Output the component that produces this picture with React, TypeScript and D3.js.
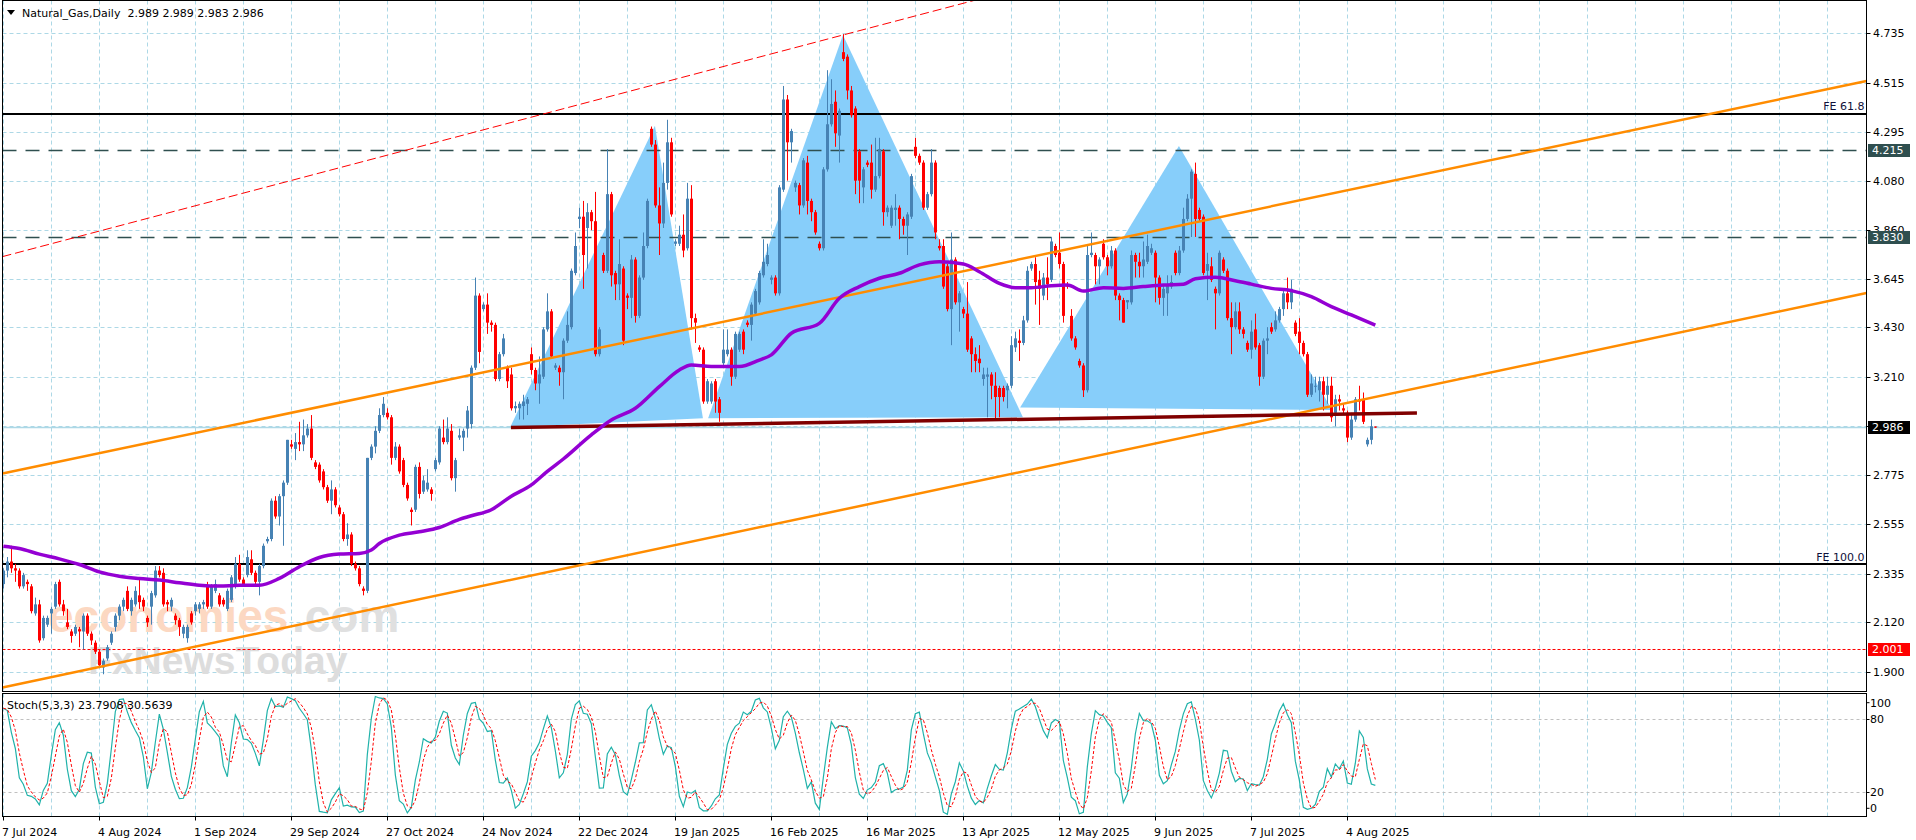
import React from "react";
import * as d3 from "d3";

type Candle = [number, number, number, number]; // open, high, low, close

// daily bars, first one is 7 Jul 2024
const candles: Candle[] = [
  [2.29, 2.36, 2.27, 2.35], [2.35, 2.41, 2.32, 2.39], [2.39, 2.46, 2.34, 2.36], [2.36, 2.38, 2.30, 2.35],
  [2.35, 2.36, 2.27, 2.28], [2.28, 2.34, 2.27, 2.33], [2.30, 2.31, 2.26, 2.29], [2.28, 2.29, 2.16, 2.17],
  [2.16, 2.23, 2.15, 2.20], [2.20, 2.22, 2.03, 2.04], [2.05, 2.15, 2.04, 2.14], [2.11, 2.15, 2.10, 2.14],
  [2.16, 2.19, 2.07, 2.18], [2.19, 2.30, 2.18, 2.29], [2.30, 2.31, 2.19, 2.20], [2.20, 2.22, 2.15, 2.17],
  [2.12, 2.18, 2.09, 2.10], [2.08, 2.09, 2.03, 2.06], [2.07, 2.11, 2.06, 2.10], [2.09, 2.10, 2.01, 2.08],
  [2.08, 2.16, 2.00, 2.15], [2.15, 2.16, 2.06, 2.07], [2.07, 2.08, 2.02, 2.04], [2.03, 2.04, 1.98, 1.99],
  [1.99, 2.00, 1.92, 1.93], [1.92, 1.96, 1.89, 1.95], [1.96, 2.02, 1.95, 2.01], [2.03, 2.08, 2.02, 2.07],
  [2.10, 2.16, 2.08, 2.15], [2.15, 2.20, 2.13, 2.19], [2.19, 2.23, 2.17, 2.22], [2.26, 2.28, 2.17, 2.18],
  [2.17, 2.23, 2.15, 2.22], [2.20, 2.28, 2.19, 2.26], [2.24, 2.31, 2.18, 2.21], [2.22, 2.23, 2.17, 2.19],
  [2.14, 2.15, 2.10, 2.12], [2.19, 2.26, 2.11, 2.25], [2.24, 2.37, 2.23, 2.35], [2.35, 2.37, 2.32, 2.33],
  [2.34, 2.36, 2.19, 2.20], [2.21, 2.22, 2.17, 2.20], [2.19, 2.23, 2.17, 2.22], [2.15, 2.16, 2.11, 2.13],
  [2.13, 2.14, 2.06, 2.10], [2.07, 2.11, 2.05, 2.10], [2.05, 2.11, 2.03, 2.10], [2.16, 2.17, 2.11, 2.12],
  [2.17, 2.21, 2.15, 2.20], [2.18, 2.21, 2.16, 2.20], [2.20, 2.22, 2.18, 2.21], [2.28, 2.30, 2.18, 2.19],
  [2.19, 2.29, 2.18, 2.28], [2.26, 2.31, 2.25, 2.29], [2.24, 2.25, 2.19, 2.20], [2.22, 2.23, 2.19, 2.20],
  [2.18, 2.27, 2.17, 2.26], [2.22, 2.33, 2.21, 2.32], [2.28, 2.41, 2.27, 2.38], [2.38, 2.42, 2.30, 2.31],
  [2.31, 2.32, 2.28, 2.29], [2.33, 2.44, 2.32, 2.41], [2.40, 2.44, 2.33, 2.34], [2.34, 2.35, 2.29, 2.30],
  [2.30, 2.38, 2.24, 2.37], [2.37, 2.47, 2.36, 2.46], [2.48, 2.50, 2.47, 2.49], [2.49, 2.67, 2.48, 2.66],
  [2.66, 2.68, 2.58, 2.59], [2.59, 2.69, 2.55, 2.68], [2.68, 2.75, 2.46, 2.74], [2.74, 2.93, 2.73, 2.93],
  [2.91, 2.93, 2.89, 2.90], [2.89, 2.96, 2.84, 2.92], [2.92, 3.01, 2.88, 2.91], [2.91, 3.02, 2.88, 2.95],
  [2.95, 3.00, 2.94, 2.98], [2.98, 3.04, 2.84, 2.85], [2.83, 2.84, 2.80, 2.81], [2.82, 2.83, 2.74, 2.75],
  [2.79, 2.80, 2.71, 2.72], [2.72, 2.73, 2.65, 2.66], [2.66, 2.75, 2.60, 2.71], [2.71, 2.72, 2.63, 2.64],
  [2.63, 2.64, 2.59, 2.60], [2.60, 2.61, 2.48, 2.49], [2.49, 2.56, 2.46, 2.51], [2.51, 2.52, 2.37, 2.38],
  [2.38, 2.39, 2.35, 2.36], [2.36, 2.37, 2.28, 2.29], [2.27, 2.28, 2.24, 2.26], [2.26, 2.85, 2.25, 2.85],
  [2.85, 2.91, 2.84, 2.90], [2.90, 2.99, 2.87, 2.97], [2.97, 3.07, 2.96, 3.04], [3.04, 3.12, 3.03, 3.09],
  [3.05, 3.07, 3.02, 3.03], [3.03, 3.04, 2.82, 2.85], [2.85, 2.92, 2.84, 2.90], [2.90, 2.91, 2.78, 2.79],
  [2.84, 2.85, 2.72, 2.73], [2.73, 2.74, 2.66, 2.67], [2.62, 2.63, 2.55, 2.61], [2.62, 2.82, 2.61, 2.81],
  [2.81, 2.83, 2.67, 2.69], [2.70, 2.77, 2.69, 2.75], [2.71, 2.80, 2.70, 2.74], [2.71, 2.72, 2.66, 2.69],
  [2.80, 2.85, 2.79, 2.84], [2.83, 2.99, 2.82, 2.98], [2.94, 3.02, 2.91, 2.92], [2.92, 3.03, 2.91, 2.98],
  [2.97, 3.00, 2.75, 2.76], [2.76, 2.85, 2.70, 2.84], [2.94, 2.98, 2.93, 2.95], [2.94, 2.98, 2.88, 2.97],
  [2.98, 3.08, 2.94, 3.06], [3.00, 3.26, 2.98, 3.25], [3.25, 3.65, 3.24, 3.57], [3.57, 3.58, 3.27, 3.32],
  [3.51, 3.54, 3.50, 3.53], [3.53, 3.58, 3.40, 3.45], [3.45, 3.46, 3.41, 3.44], [3.44, 3.45, 3.19, 3.20],
  [3.20, 3.32, 3.19, 3.31], [3.31, 3.40, 3.30, 3.38], [3.25, 3.26, 3.16, 3.19], [3.22, 3.25, 3.06, 3.07],
  [3.07, 3.10, 3.05, 3.08], [3.07, 3.10, 3.02, 3.09], [3.08, 3.13, 3.02, 3.10], [3.09, 3.12, 3.04, 3.11],
  [3.31, 3.34, 3.22, 3.24], [3.24, 3.25, 3.15, 3.18], [3.18, 3.30, 3.09, 3.22], [3.21, 3.43, 3.20, 3.42],
  [3.42, 3.58, 3.41, 3.50], [3.50, 3.51, 3.29, 3.30], [3.25, 3.27, 3.24, 3.26], [3.25, 3.26, 3.17, 3.23],
  [3.23, 3.38, 3.11, 3.37], [3.37, 3.50, 3.36, 3.44], [3.43, 3.69, 3.42, 3.68], [3.67, 3.85, 3.66, 3.79],
  [3.91, 3.96, 3.87, 3.92], [3.92, 3.99, 3.60, 3.75], [3.87, 3.98, 3.69, 3.94], [3.94, 3.95, 3.86, 3.90],
  [3.90, 4.03, 3.30, 3.31], [3.31, 3.43, 3.30, 3.42], [3.75, 3.76, 3.67, 3.68], [3.68, 4.22, 3.67, 4.02],
  [4.02, 4.03, 3.61, 3.66], [3.67, 3.68, 3.55, 3.62], [3.62, 3.82, 3.55, 3.71], [3.69, 3.70, 3.35, 3.37],
  [3.57, 3.58, 3.51, 3.56], [3.56, 3.75, 3.47, 3.73], [3.73, 3.74, 3.45, 3.48], [3.48, 3.66, 3.47, 3.65],
  [3.65, 3.85, 3.64, 3.79], [3.79, 4.00, 3.78, 3.99], [4.31, 4.32, 4.23, 4.24], [4.24, 4.26, 3.96, 3.97],
  [3.97, 4.05, 3.75, 3.89], [3.89, 4.16, 3.87, 4.07], [4.07, 4.35, 4.04, 4.25], [4.25, 4.27, 3.92, 3.93],
  [3.80, 3.82, 3.79, 3.81], [3.80, 3.88, 3.79, 3.84], [3.84, 3.93, 3.74, 3.77], [3.78, 4.07, 3.77, 4.00],
  [4.00, 4.06, 3.42, 3.47], [3.47, 3.49, 3.36, 3.45], [3.34, 3.35, 3.32, 3.33], [3.33, 3.34, 3.09, 3.10],
  [3.10, 3.20, 3.09, 3.19], [3.10, 3.19, 3.09, 3.18], [3.19, 3.20, 3.05, 3.10], [3.11, 3.12, 3.01, 3.05],
  [3.27, 3.42, 3.26, 3.33], [3.31, 3.42, 3.30, 3.33], [3.33, 3.34, 3.17, 3.21], [3.21, 3.41, 3.20, 3.40],
  [3.33, 3.41, 3.32, 3.40], [3.41, 3.42, 3.31, 3.33], [3.45, 3.46, 3.43, 3.44], [3.44, 3.54, 3.37, 3.53],
  [3.49, 3.60, 3.48, 3.59], [3.54, 3.68, 3.53, 3.67], [3.66, 3.82, 3.65, 3.72], [3.71, 3.80, 3.70, 3.75],
  [3.64, 3.66, 3.62, 3.65], [3.65, 3.66, 3.57, 3.58], [3.58, 4.06, 3.57, 4.05], [4.04, 4.50, 4.03, 4.44],
  [4.44, 4.46, 4.08, 4.25], [4.25, 4.31, 4.16, 4.30], [4.05, 4.08, 4.03, 4.07], [4.06, 4.07, 3.93, 3.97],
  [3.97, 4.18, 3.96, 4.17], [4.16, 4.19, 3.93, 3.99], [3.99, 4.00, 3.90, 3.94], [3.94, 3.95, 3.84, 3.85],
  [3.80, 3.81, 3.77, 3.78], [3.78, 4.14, 3.77, 4.13], [4.13, 4.57, 4.12, 4.33], [4.33, 4.53, 4.32, 4.42],
  [4.43, 4.48, 4.23, 4.29], [4.28, 4.40, 4.16, 4.39], [4.65, 4.73, 4.61, 4.62], [4.63, 4.64, 4.44, 4.48],
  [4.48, 4.50, 4.36, 4.37], [4.40, 4.41, 4.02, 4.08], [4.21, 4.22, 3.98, 4.08], [4.05, 4.14, 3.98, 4.13],
  [4.16, 4.17, 4.14, 4.15], [4.16, 4.24, 4.00, 4.04], [4.04, 4.27, 4.03, 4.10], [4.10, 4.27, 4.09, 4.22],
  [4.21, 4.22, 3.88, 3.94], [3.94, 3.97, 3.92, 3.96], [3.88, 3.97, 3.87, 3.96], [3.95, 4.02, 3.88, 3.96],
  [3.96, 3.97, 3.82, 3.91], [3.91, 3.92, 3.84, 3.88], [3.88, 3.94, 3.75, 3.93], [3.92, 4.11, 3.91, 4.10],
  [4.23, 4.27, 4.18, 4.19], [4.19, 4.20, 4.15, 4.16], [4.16, 4.17, 3.95, 3.96], [3.96, 4.03, 3.95, 4.02],
  [4.02, 4.22, 4.01, 4.16], [4.16, 4.17, 3.82, 3.85], [3.79, 3.82, 3.77, 3.78], [3.79, 3.82, 3.60, 3.61],
  [3.70, 3.71, 3.50, 3.51], [3.51, 3.85, 3.35, 3.73], [3.73, 3.74, 3.53, 3.54], [3.54, 3.59, 3.41, 3.58],
  [3.51, 3.52, 3.47, 3.49], [3.49, 3.63, 3.32, 3.33], [3.38, 3.39, 3.23, 3.31], [3.31, 3.34, 3.23, 3.28],
  [3.29, 3.35, 3.23, 3.27], [3.20, 3.25, 3.17, 3.22], [3.21, 3.25, 3.03, 3.22], [3.22, 3.23, 3.11, 3.17],
  [3.17, 3.23, 3.02, 3.12], [3.16, 3.17, 3.03, 3.12], [3.16, 3.17, 3.10, 3.12], [3.15, 3.18, 3.07, 3.17],
  [3.17, 3.39, 3.16, 3.35], [3.34, 3.41, 3.32, 3.38], [3.37, 3.42, 3.28, 3.36], [3.36, 3.48, 3.35, 3.46],
  [3.46, 3.70, 3.45, 3.68], [3.69, 3.72, 3.68, 3.71], [3.71, 3.74, 3.53, 3.63], [3.64, 3.68, 3.44, 3.60],
  [3.57, 3.67, 3.55, 3.65], [3.65, 3.74, 3.55, 3.62], [3.64, 3.83, 3.63, 3.81], [3.79, 3.80, 3.74, 3.75],
  [3.76, 3.85, 3.69, 3.71], [3.71, 3.72, 3.45, 3.48], [3.62, 3.63, 3.60, 3.61], [3.48, 3.51, 3.37, 3.38],
  [3.38, 3.39, 3.33, 3.34], [3.28, 3.29, 3.25, 3.26], [3.26, 3.27, 3.12, 3.15], [3.15, 3.79, 3.14, 3.75],
  [3.75, 3.85, 3.74, 3.76], [3.75, 3.76, 3.62, 3.70], [3.70, 3.74, 3.62, 3.73], [3.80, 3.82, 3.73, 3.74],
  [3.74, 3.75, 3.66, 3.70], [3.70, 3.79, 3.69, 3.77], [3.77, 3.78, 3.55, 3.57], [3.57, 3.58, 3.46, 3.55],
  [3.55, 3.56, 3.45, 3.45], [3.54, 3.55, 3.51, 3.55], [3.54, 3.77, 3.53, 3.75], [3.75, 3.76, 3.65, 3.72],
  [3.72, 3.76, 3.65, 3.70], [3.70, 3.81, 3.65, 3.73], [3.72, 3.84, 3.71, 3.79], [3.76, 3.80, 3.75, 3.78],
  [3.76, 3.77, 3.54, 3.65], [3.65, 3.66, 3.53, 3.56], [3.56, 3.62, 3.48, 3.60], [3.58, 3.66, 3.48, 3.62],
  [3.61, 3.66, 3.60, 3.63], [3.76, 3.77, 3.66, 3.67], [3.67, 3.79, 3.66, 3.77], [3.77, 3.96, 3.76, 3.91],
  [3.91, 4.02, 3.90, 4.00], [4.00, 4.13, 3.83, 4.12], [4.11, 4.16, 3.83, 3.91], [3.95, 3.96, 3.90, 3.91],
  [3.92, 3.93, 3.66, 3.67], [3.68, 3.76, 3.55, 3.71], [3.70, 3.74, 3.63, 3.64], [3.60, 3.61, 3.42, 3.58],
  [3.58, 3.77, 3.57, 3.76], [3.73, 3.74, 3.67, 3.68], [3.68, 3.69, 3.46, 3.47], [3.47, 3.54, 3.31, 3.43],
  [3.43, 3.54, 3.42, 3.50], [3.50, 3.54, 3.40, 3.42], [3.42, 3.43, 3.38, 3.40], [3.36, 3.37, 3.32, 3.33],
  [3.33, 3.46, 3.29, 3.41], [3.42, 3.49, 3.33, 3.34], [3.35, 3.36, 3.17, 3.21], [3.21, 3.38, 3.20, 3.37],
  [3.37, 3.43, 3.31, 3.38], [3.43, 3.45, 3.40, 3.41], [3.42, 3.50, 3.41, 3.46], [3.46, 3.52, 3.45, 3.51],
  [3.51, 3.60, 3.48, 3.58], [3.58, 3.65, 3.51, 3.54], [3.54, 3.64, 3.51, 3.60], [3.45, 3.46, 3.39, 3.40],
  [3.41, 3.47, 3.31, 3.36], [3.36, 3.37, 3.30, 3.31], [3.31, 3.32, 3.12, 3.13], [3.13, 3.22, 3.12, 3.18],
  [3.17, 3.21, 3.14, 3.17], [3.15, 3.21, 3.10, 3.19], [3.19, 3.21, 3.06, 3.13], [3.13, 3.21, 3.09, 3.17],
  [3.17, 3.21, 3.01, 3.03], [3.05, 3.13, 2.99, 3.11], [3.11, 3.13, 3.06, 3.10], [3.07, 3.09, 3.04, 3.06],
  [3.05, 3.06, 2.92, 2.94], [2.94, 3.05, 2.93, 3.02], [3.02, 3.12, 3.01, 3.11], [3.11, 3.17, 3.06, 3.10],
  [3.11, 3.14, 3.00, 3.01], [2.91, 2.94, 2.90, 2.93], [2.93, 3.02, 2.91, 2.99], [2.989, 2.989, 2.983, 2.986],
];

// purple moving average, read at bar positions
const maBars = [0, 4, 9, 14, 19, 24, 29, 34, 39, 44, 49, 54, 59, 64, 69, 74, 79, 84, 89, 92, 94, 99, 104, 109, 114, 117,
  122, 127, 132, 136, 140, 147, 152, 158, 164, 169, 172, 177, 184, 189, 192, 197, 204, 209, 214, 219, 224, 229, 234,
  240, 244, 249, 253, 257, 262, 266, 270, 275, 280, 285, 290, 295, 298, 303, 308, 312, 317, 322, 327, 332, 337, 343];
const maValues = [2.458, 2.448, 2.423, 2.402, 2.377, 2.344, 2.325, 2.315, 2.308, 2.296, 2.285, 2.281, 2.285, 2.285,
  2.315, 2.367, 2.408, 2.423, 2.426, 2.441, 2.47, 2.507, 2.522, 2.541, 2.577, 2.593,
  2.62, 2.68, 2.73, 2.79, 2.845, 2.952, 3.018, 3.07, 3.166, 3.24, 3.262, 3.255, 3.255, 3.284, 3.307, 3.403, 3.447,
  3.558, 3.61, 3.647, 3.669, 3.706, 3.72, 3.71, 3.676, 3.624, 3.605, 3.605, 3.614, 3.617, 3.59, 3.605, 3.602, 3.61,
  3.617, 3.62, 3.645, 3.651, 3.636, 3.621, 3.602, 3.592, 3.565, 3.521, 3.484, 3.439];

const priceTicks = [4.735, 4.515, 4.295, 4.08, 3.86, 3.645, 3.43, 3.21, 2.99, 2.775, 2.555, 2.335, 2.12, 1.9];
const dateLabels = ["7 Jul 2024", "4 Aug 2024", "1 Sep 2024", "29 Sep 2024", "27 Oct 2024", "24 Nov 2024",
  "22 Dec 2024", "19 Jan 2025", "16 Feb 2025", "16 Mar 2025", "13 Apr 2025", "12 May 2025", "9 Jun 2025",
  "7 Jul 2025", "4 Aug 2025"];
const barsPerLabel = 24;
const barsPerGrid = 12;

// drawn objects, anchors as [bar, price]
const upperChannel = [[-0.83, 2.778], [465.7, 4.522]];
const lowerChannel = [[-0.83, 1.829], [465.7, 3.581]];
const redChannel = [[-0.83, 3.74], [224.2, 4.793]];
const neckline = [[126.9, 2.985], [353.4, 3.049]];
const patternTriangles = [
  [[126.7, 2.986], [162.9, 4.323], [174.9, 3.026]],
  [[176.2, 3.026], [209.9, 4.726], [254.9, 3.03]],
  [[254.2, 3.074], [293.9, 4.234], [332.2, 3.062]],
];
const feLevels = [{ label: "FE 61.8", price: 4.376 }, { label: "FE 100.0", price: 2.379 }];
const dashedLevels = [4.215, 3.83];
const supportLevel = 2.001;
const lastPrice = 2.986;

const W = 1916, H = 840;
const left = 2.5, right = 1866.5;
const mainTop = 0.5, mainBottom = 691.5;
const stTop = 693.5, stBottom = 816.5;
const font = "'DejaVu Sans', Verdana, sans-serif";

const App: React.FC = () => {
  const ref = React.useRef<SVGSVGElement>(null);

  React.useEffect(() => {
    const svg = d3.select(ref.current);
    svg.selectAll("*").remove();

    const x = d3.scaleLinear().domain([0, 343]).range([3.33, 1375.33]);
    const y = d3.scaleLinear().domain([1.9, 4.735]).range([672, 33]);
    const ys = d3.scaleLinear().domain([0, 100]).range([816.3, 694.7]);
    const px = (i: number) => Math.round(x(i)) + 0.5;

    svg.append("rect").attr("width", W).attr("height", H).attr("fill", "#fff");
    const defs = svg.append("defs");
    defs.append("clipPath").attr("id", "clipMain").append("rect")
      .attr("x", left).attr("y", mainTop).attr("width", right - left).attr("height", mainBottom - mainTop);
    defs.append("clipPath").attr("id", "clipStoch").append("rect")
      .attr("x", left).attr("y", stTop).attr("width", right - left).attr("height", stBottom - stTop);

    const gridCol = "#ADD8E6";
    const gridBars = d3.range(0, 470, barsPerGrid).filter((i) => x(i) < right - 2);

    // ---------- main panel ----------
    const main = svg.append("g").attr("clip-path", "url(#clipMain)");
    priceTicks.forEach((p) => {
      main.append("line").attr("x1", left).attr("x2", right)
        .attr("y1", Math.round(y(p)) + 0.5).attr("y2", Math.round(y(p)) + 0.5)
        .attr("stroke", gridCol).attr("stroke-dasharray", "4,3");
    });
    gridBars.forEach((i) => {
      main.append("line").attr("x1", px(i)).attr("x2", px(i)).attr("y1", mainTop).attr("y2", mainBottom)
        .attr("stroke", gridCol).attr("stroke-dasharray", "4,3");
    });

    // watermark
    const wm = main.append("g").attr("font-family", "'Liberation Sans', Arial, sans-serif").attr("font-weight", "bold");
    wm.append("text").attr("x", 48).attr("y", 632).attr("font-size", 46).attr("fill", "#FCD8C2").text("economies");
    wm.append("text").attr("x", 292).attr("y", 632).attr("font-size", 46).attr("fill", "#E0E0E0").text(".com");
    wm.append("text").attr("x", 88).attr("y", 674).attr("font-size", 39).attr("fill", "#DDDDDD").text("FxNewsToday");

    // pattern triangles
    patternTriangles.forEach((tri) => {
      main.append("path")
        .attr("d", "M" + tri.map(([b, p]) => `${x(b)},${y(p)}`).join("L") + "Z")
        .attr("fill", "#87CEFA");
    });

    // horizontal levels
    feLevels.forEach((l) => {
      main.append("line").attr("x1", left).attr("x2", right).attr("y1", y(l.price)).attr("y2", y(l.price))
        .attr("stroke", "#000").attr("stroke-width", 2);
    });
    dashedLevels.forEach((p) => {
      main.append("line").attr("x1", left).attr("x2", right)
        .attr("y1", Math.round(y(p)) + 0.5).attr("y2", Math.round(y(p)) + 0.5)
        .attr("stroke", "#2F4F4F").attr("stroke-width", 1.3).attr("stroke-dasharray", "14,9");
    });
    main.append("line").attr("x1", left).attr("x2", right)
      .attr("y1", Math.round(y(supportLevel)) + 0.5).attr("y2", Math.round(y(supportLevel)) + 0.5)
      .attr("stroke", "#FF0000").attr("stroke-dasharray", "3,2");
    main.append("line").attr("x1", left).attr("x2", right)
      .attr("y1", Math.round(y(lastPrice)) + 0.5).attr("y2", Math.round(y(lastPrice)) + 0.5)
      .attr("stroke", "#ADD8E6").attr("stroke-width", 1.5);

    // candles
    candles.forEach(([o, h, l, c], i) => {
      const col = c >= o ? "#4682B4" : "#FF0000";
      const cx = px(i);
      main.append("line").attr("x1", cx).attr("x2", cx).attr("y1", y(h)).attr("y2", y(l)).attr("stroke", col);
      const top = Math.min(y(o), y(c));
      main.append("rect").attr("x", cx - 1.5).attr("y", top).attr("width", 3)
        .attr("height", Math.max(1, Math.abs(y(o) - y(c)))).attr("fill", col);
    });

    // trend lines
    const ray = (pts: number[][]) => {
      const [[b1, p1], [b2, p2]] = pts;
      const k = (p2 - p1) / (b2 - b1);
      const bl = x.invert(left), br = x.invert(right);
      return [[x(bl), y(p1 + k * (bl - b1))], [x(br), y(p1 + k * (br - b1))]];
    };
    [upperChannel, lowerChannel].forEach((ch) => {
      const [[x1, y1], [x2, y2]] = ray(ch);
      main.append("line").attr("x1", x1).attr("y1", y1).attr("x2", x2).attr("y2", y2)
        .attr("stroke", "#FF8C00").attr("stroke-width", 2.5);
    });
    {
      const [[x1, y1], [x2, y2]] = ray(redChannel);
      main.append("line").attr("x1", x1).attr("y1", y1).attr("x2", x2).attr("y2", y2)
        .attr("stroke", "#FF0000").attr("stroke-width", 1).attr("stroke-dasharray", "9,4");
    }
    main.append("line")
      .attr("x1", x(neckline[0][0])).attr("y1", y(neckline[0][1]))
      .attr("x2", x(neckline[1][0])).attr("y2", y(neckline[1][1]))
      .attr("stroke", "#800000").attr("stroke-width", 3.5);

    // moving average
    const maLine = d3.line<number>().x((b) => x(b)).y((_, k) => y(maValues[k])).curve(d3.curveMonotoneX);
    main.append("path").attr("d", maLine(maBars)).attr("fill", "none")
      .attr("stroke", "#9400D3").attr("stroke-width", 3.5);

    // ---------- stochastic ----------
    const n = candles.length;
    const hh = candles.map((_, i) => d3.max(candles.slice(Math.max(0, i - 4), i + 1), (d) => d[1]) as number);
    const ll = candles.map((_, i) => d3.min(candles.slice(Math.max(0, i - 4), i + 1), (d) => d[2]) as number);
    const kLine: number[] = [];
    for (let i = 0; i < n; i++) {
      let num = 0, den = 0;
      for (let j = Math.max(0, i - 2); j <= i; j++) {
        num += candles[j][3] - ll[j];
        den += hh[j] - ll[j];
      }
      kLine.push(den === 0 ? 50 : (100 * num) / den);
    }
    const dLine = kLine.map((_, i) => d3.mean(kLine.slice(Math.max(0, i - 2), i + 1)) as number);

    const st = svg.append("g").attr("clip-path", "url(#clipStoch)");
    gridBars.forEach((i) => {
      st.append("line").attr("x1", px(i)).attr("x2", px(i)).attr("y1", stTop).attr("y2", stBottom)
        .attr("stroke", gridCol).attr("stroke-dasharray", "4,3");
    });
    [80, 20].forEach((lv) => {
      st.append("line").attr("x1", left).attr("x2", right)
        .attr("y1", Math.round(ys(lv)) + 0.5).attr("y2", Math.round(ys(lv)) + 0.5)
        .attr("stroke", "#C0C0C0").attr("stroke-dasharray", "3,3");
    });
    const sLine = d3.line<number>().x((_, i) => x(i)).y((v) => ys(v));
    st.append("path").attr("d", sLine(kLine)).attr("fill", "none").attr("stroke", "#20B2AA").attr("stroke-width", 1.2);
    st.append("path").attr("d", sLine(dLine)).attr("fill", "none").attr("stroke", "#FF0000")
      .attr("stroke-width", 1).attr("stroke-dasharray", "3,2");

    // ---------- frames ----------
    svg.append("rect").attr("x", left).attr("y", mainTop).attr("width", right - left)
      .attr("height", mainBottom - mainTop).attr("fill", "none").attr("stroke", "#000");
    svg.append("rect").attr("x", left).attr("y", stTop).attr("width", right - left)
      .attr("height", stBottom - stTop).attr("fill", "none").attr("stroke", "#000");

    // ---------- price axis ----------
    const axisG = svg.append("g").attr("font-family", font).attr("font-size", 11);
    priceTicks.forEach((p) => {
      const yy = Math.round(y(p)) + 0.5;
      axisG.append("line").attr("x1", right).attr("x2", right + 4).attr("y1", yy).attr("y2", yy).attr("stroke", "#000");
      axisG.append("text").attr("x", 1873).attr("y", yy).attr("dy", "0.35em").attr("fill", "#000").text(p.toFixed(3));
    });
    const box = (p: number, bg: string, label: string) => {
      const yy = Math.round(y(p)) + 0.5;
      axisG.append("rect").attr("x", 1868).attr("y", yy - 6.5).attr("width", 42).attr("height", 13).attr("fill", bg);
      axisG.append("text").attr("x", 1872).attr("y", yy).attr("dy", "0.35em").attr("fill", "#fff").text(label);
    };
    dashedLevels.forEach((p) => box(p, "#2F4F4F", p.toFixed(3)));
    box(lastPrice, "#000", lastPrice.toFixed(3));
    box(supportLevel, "#FF0000", supportLevel.toFixed(3));

    feLevels.forEach((l) => {
      axisG.append("text").attr("x", right - 2).attr("y", y(l.price) - 3.5).attr("text-anchor", "end")
        .attr("fill", "#10103a").text(l.label);
    });

    // stoch axis
    [100, 80, 20, 0].forEach((lv) => {
      const yy = lv === 100 ? ys(100) + 8 : lv === 0 ? ys(0) - 8 : Math.round(ys(lv)) + 0.5;
      axisG.append("line").attr("x1", right).attr("x2", right + 3).attr("y1", yy).attr("y2", yy).attr("stroke", "#000");
      axisG.append("text").attr("x", 1870).attr("y", yy).attr("dy", "0.35em").text(String(lv));
    });

    // date axis
    dateLabels.forEach((lab, k) => {
      const xx = px(k * barsPerLabel);
      axisG.append("line").attr("x1", xx).attr("x2", xx).attr("y1", stBottom).attr("y2", stBottom + 4).attr("stroke", "#000");
      axisG.append("text").attr("x", xx - 1.5).attr("y", 832).attr("dy", "0.35em").text(lab);
    });

    // titles
    svg.append("path").attr("d", "M7,10L15,10L11,15Z").attr("fill", "#000");
    svg.append("text").attr("x", 22).attr("y", 13).attr("dy", "0.35em").attr("font-family", font)
      .attr("font-size", 11).attr("fill", "#000").style("white-space", "pre")
      .text("Natural_Gas,Daily  2.989 2.989 2.983 2.986");
    svg.append("text").attr("x", 7).attr("y", 705).attr("dy", "0.35em").attr("font-family", font)
      .attr("font-size", 11).attr("fill", "#000").text("Stoch(5,3,3) 23.7908 30.5639");
  }, []);

  return (
    <svg
      ref={ref}
      width={W}
      height={H}
      style={{ position: "absolute", left: 0, top: 0, display: "block" }}
    />
  );
};

export default App;
